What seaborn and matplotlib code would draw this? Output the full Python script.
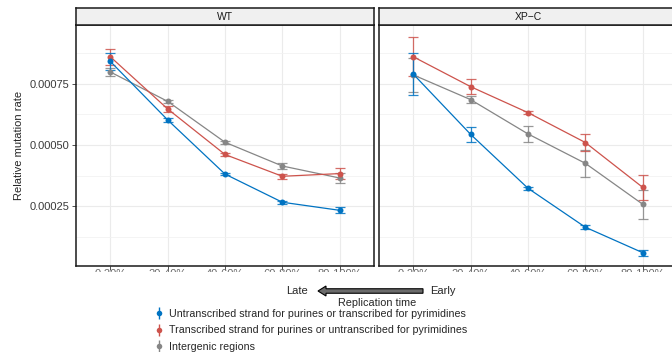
import numpy as np
import pandas as pd
import seaborn as sns
import matplotlib
matplotlib.use("Agg")
import matplotlib.pyplot as plt
from matplotlib.lines import Line2D
from matplotlib.patches import FancyArrow
from matplotlib.legend_handler import HandlerTuple
from matplotlib.transforms import Bbox

# Replication timing bins (late -> early)
bins = ["0-20%", "20-40%", "40-60%", "60-80%", "80-100%"]
panels = ["WT", "XP\u2212C"]
series = [
    "Untranscribed strand for purines or transcribed for pyrimidines",
    "Transcribed strand for purines or untranscribed for pyrimidines",
    "Intergenic regions",
]
colors = ["#0073C2", "#CD534C", "#868686"]

# WT mutation rates and standard errors
wt_untx = [0.000841, 0.000602, 0.000381, 0.000266, 0.000233]
wt_untx_se = [0.000036, 0.000010, 0.000005, 0.000006, 0.000012]
wt_tx = [0.000860, 0.000647, 0.000461, 0.000372, 0.000383]
wt_tx_se = [0.000032, 0.000011, 0.000005, 0.000010, 0.000024]
wt_inter = [0.000798, 0.000678, 0.000511, 0.000414, 0.000365]
wt_inter_se = [0.000018, 0.000006, 0.000006, 0.000012, 0.000019]

# XP-C mutation rates and standard errors
xpc_untx = [0.000789, 0.000543, 0.000323, 0.000164, 0.000060]
xpc_untx_se = [0.000085, 0.000030, 0.000006, 0.000008, 0.000012]
xpc_tx = [0.000860, 0.000738, 0.000632, 0.000510, 0.000327]
xpc_tx_se = [0.000080, 0.000030, 0.000006, 0.000035, 0.000050]
xpc_inter = [0.000786, 0.000685, 0.000545, 0.000425, 0.000258]
xpc_inter_se = [0.000068, 0.000015, 0.000033, 0.000055, 0.000060]

rows = []
for panel, vals, ses in [
    (panels[0], [wt_untx, wt_tx, wt_inter], [wt_untx_se, wt_tx_se, wt_inter_se]),
    (panels[1], [xpc_untx, xpc_tx, xpc_inter], [xpc_untx_se, xpc_tx_se, xpc_inter_se]),
]:
    for s, v, e in zip(series, vals, ses):
        for i, b in enumerate(bins):
            rows.append({"panel": panel, "series": s, "pos": i + 1,
                         "bin": b, "rate": v[i], "se": e[i]})
df = pd.DataFrame(rows)

sns.set_theme(style="white")
plt.rcParams["font.family"] = ["Liberation Sans", "DejaVu Sans"]
plt.rcParams["font.size"] = 8

W, H = 672, 352
fig = plt.figure(figsize=(W / 100, H / 100), dpi=100)
fig.patch.set_facecolor("white")

def fx(px):
    return px / W

def fy(py):
    return 1 - py / H

panel_w = 298
lefts = [76, 379]
top, bottom, strip_top = 25, 266, 8
palette = dict(zip(series, colors))
clip = Bbox([[0, H - 271.5], [W, H]])

axes = []
for k, panel in enumerate(panels):
    ax = fig.add_axes([fx(lefts[k]), fy(bottom), fx(panel_w), (bottom - top) / H])
    axes.append(ax)
    sub = df[df["panel"] == panel]
    # draw grey first so coloured series sit on top
    for s in series[::-1]:
        d = sub[sub["series"] == s]
        ax.errorbar(d["pos"], d["rate"], yerr=d["se"], fmt="none",
                    ecolor=palette[s], elinewidth=0.9, capsize=3.4,
                    capthick=0.9, alpha=0.85, zorder=3)
    sns.lineplot(data=sub, x="pos", y="rate", hue="series",
                 hue_order=series[::-1], palette=palette, marker="o",
                 markersize=4.3, markeredgewidth=0, linewidth=0.9,
                 errorbar=None, legend=False, ax=ax, zorder=4)

    ax.set_xlim(0.4, 5.6)
    ax.set_ylim(0.0000055, 0.00099)
    ax.set_xticks(range(1, 6))
    ax.set_xticklabels(bins)
    ax.set_yticks([0.00025, 0.00050, 0.00075])
    ax.set_yticks([0.000125, 0.000375, 0.000625, 0.000875], minor=True)
    ax.set_yticklabels(["0.00025", "0.00050", "0.00075"])
    ax.grid(True, which="major", color="#EBEBEB", linewidth=0.8)
    ax.grid(True, which="minor", axis="y", color="#F2F2F2", linewidth=0.6)
    ax.set_axisbelow(True)
    ax.set_xlabel("")
    ax.set_ylabel("")
    for sp in ax.spines.values():
        sp.set_color("#1A1A1A")
        sp.set_linewidth(1.1)
    ax.tick_params(axis="both", which="major", length=3, width=0.6,
                   color="#333333", labelsize=8, pad=1.5, labelcolor="#3A3A3A",
                   bottom=True, left=(k == 0), labelleft=(k == 0))
    ax.tick_params(axis="x", which="major", pad=-1.0, labelcolor="#6A6A6A")
    ax.tick_params(axis="y", which="minor", length=0)
    for lab in ax.get_xticklabels():
        lab.set_clip_on(True)
        lab.set_clip_box(clip)

    # facet strip
    sax = fig.add_axes([fx(lefts[k]), fy(top), fx(panel_w), (top - strip_top) / H])
    sax.set_facecolor("#F0F0F0")
    sax.set_xticks([])
    sax.set_yticks([])
    for sp in sax.spines.values():
        sp.set_color("#1A1A1A")
        sp.set_linewidth(1.1)
    sax.text(0.5, 0.5, panel, ha="center", va="center", fontsize=7.5,
             color="#1A1A1A", transform=sax.transAxes)

axes[0].set_ylabel("Relative mutation rate", fontsize=8, labelpad=4)

# Bottom annotation layer in pixel coordinates
ann = fig.add_axes([0, 0, 1, 1], zorder=10)
ann.set_xlim(0, W)
ann.set_ylim(H, 0)
ann.axis("off")
ann.patch.set_alpha(0)
ann.text(297, 291.5, "Late", ha="center", va="center", fontsize=8)
ann.text(443, 291.5, "Early", ha="center", va="center", fontsize=8)
ann.add_patch(FancyArrow(423, 291, -105, 0, width=4.5, head_width=10,
                         head_length=8, length_includes_head=True,
                         fc="#6B6B6B", ec="black", lw=0.8))
ann.text(377, 302.5, "Replication time", ha="center", va="center", fontsize=7.8)

handles = [(Line2D([], [], color=c, marker="|", markersize=8, linestyle="None",
                   markeredgewidth=1.0),
            Line2D([], [], color=c, marker="o", markersize=4, linestyle="None",
                   markeredgewidth=0))
           for c in colors]
leg = fig.legend(handles, series, loc="upper left",
                 bbox_to_anchor=(fx(155), fy(309)), frameon=False,
                 fontsize=7.7, handlelength=0.8, handletextpad=0.5,
                 labelspacing=0.6, borderpad=0, borderaxespad=0,
                 handler_map={tuple: HandlerTuple(ndivide=1)})

fig.savefig("out.png", dpi=100)
